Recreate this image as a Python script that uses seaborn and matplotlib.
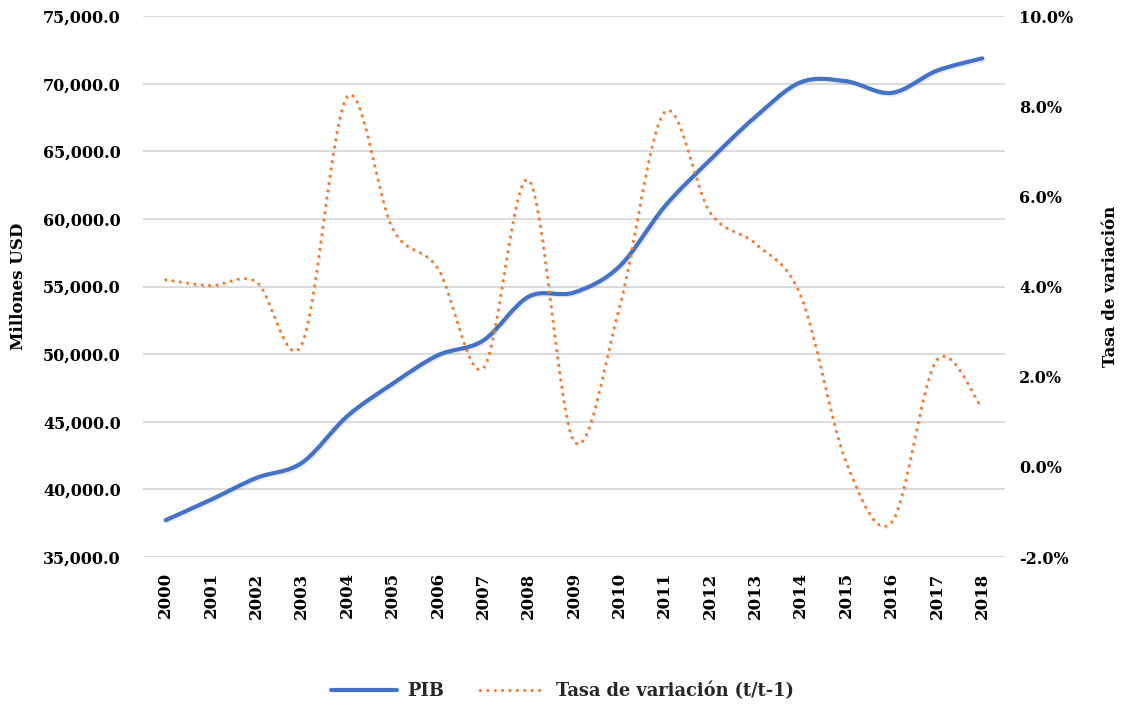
import numpy as np
import matplotlib
matplotlib.use("Agg")
import matplotlib.pyplot as plt
import matplotlib.patheffects as pe
from matplotlib.path import Path
from matplotlib.patches import PathPatch
from matplotlib.lines import Line2D
from matplotlib.ticker import FuncFormatter, MultipleLocator
import seaborn as sns

# data (Ecuador, millones USD constantes)
years = list(range(2000, 2019))
pib = [37726, 39241, 40849, 41961, 45407, 47809, 49915, 51008, 54250, 54558,
       56481, 60925, 64362, 67546, 70105, 70175, 69314, 70956, 71871]
tasa = [4.15, 4.02, 4.10, 2.72, 8.21, 5.29, 4.40, 2.19, 6.36, 0.57,
        3.53, 7.87, 5.64, 4.95, 3.79, 0.10, -1.23, 2.37, 1.29]

BLUE = "#4472C4"
ORANGE = "#ED7D31"
GRID = "#D9D9D9"


def smooth_path(x, y):
    """Excel-like smoothed line: cubic Bezier through every data point."""
    pts = np.column_stack([x, y]).astype(float)
    n = len(pts)
    verts = [pts[0]]
    codes = [Path.MOVETO]
    for i in range(n - 1):
        p0 = pts[max(i - 1, 0)]
        p1 = pts[i]
        p2 = pts[i + 1]
        p3 = pts[min(i + 2, n - 1)]
        verts += [p1 + (p2 - p0) / 6, p2 - (p3 - p1) / 6, p2]
        codes += [Path.CURVE4] * 3
    return Path(verts, codes)


sns.set_theme(style="white")
plt.rcParams["font.family"] = ["DejaVu Serif"]
plt.rcParams["font.weight"] = "bold"
plt.rcParams["axes.labelweight"] = "bold"

fig = plt.figure(figsize=(11.25, 7.07), dpi=100)
ax = fig.add_axes([143 / 1125, 1 - 557 / 707, 862 / 1125, 541 / 707])
ax2 = ax.twinx()

shadow = [pe.SimpleLineShadow(offset=(1, -1.2), shadow_color="black", alpha=0.08),
          pe.Normal()]

blue_line = PathPatch(smooth_path(years, pib), fill=False, edgecolor=BLUE,
                      linewidth=3, capstyle="round", joinstyle="round",
                      path_effects=shadow, zorder=3)
ax.add_patch(blue_line)

dots = (0, (0.01, 2.3))
orange_line = PathPatch(smooth_path(years, tasa), fill=False, edgecolor=ORANGE,
                        linewidth=2.3, linestyle=dots, capstyle="round",
                        path_effects=shadow, zorder=3)
ax2.add_patch(orange_line)

ax.set_xlim(1999.5, 2018.5)
ax.set_ylim(35000, 75000)
ax.yaxis.set_major_locator(MultipleLocator(5000))
ax.yaxis.set_major_formatter(FuncFormatter(lambda v, p: f"{v:,.1f}"))
ax.set_xticks(years)
ax.set_xticklabels([str(y) for y in years], rotation=90)
ax.grid(axis="y", color=GRID, linewidth=1.3)
ax.grid(axis="x", visible=False)

ax2.set_ylim(-2, 10)
ax2.yaxis.set_major_locator(MultipleLocator(2))
ax2.yaxis.set_major_formatter(FuncFormatter(lambda v, p: f"{v:.1f}%"))
ax2.grid(False)

for a in (ax, ax2):
    for s in a.spines.values():
        s.set_visible(False)
    a.tick_params(length=0, colors="black")

ax.tick_params(axis="y", labelsize=11.5, pad=16)
ax.tick_params(axis="x", labelsize=12, pad=11)
ax2.tick_params(axis="y", labelsize=11.5, pad=10)

ax.set_ylabel("Millones USD", fontsize=12, color="black")
ax.yaxis.set_label_coords(-0.134, 0.5)
ax2.set_ylabel("Tasa de variación", fontsize=12, color="black", rotation=90)
ax2.yaxis.set_label_coords(1.113, 0.5)

handles = [
    Line2D([], [], color=BLUE, linewidth=3, solid_capstyle="round"),
    Line2D([], [], color=ORANGE, linewidth=2.3, linestyle=dots,
           dash_capstyle="round"),
]
fig.legend(handles, ["PIB", "Tasa de variación (t/t-1)"], loc="center",
           bbox_to_anchor=(0.5, 1 - 691 / 707), ncol=2, frameon=False,
           fontsize=12.8, handlelength=3.7, columnspacing=2.0, handletextpad=0.6)

fig.savefig("out.png", dpi=100)
